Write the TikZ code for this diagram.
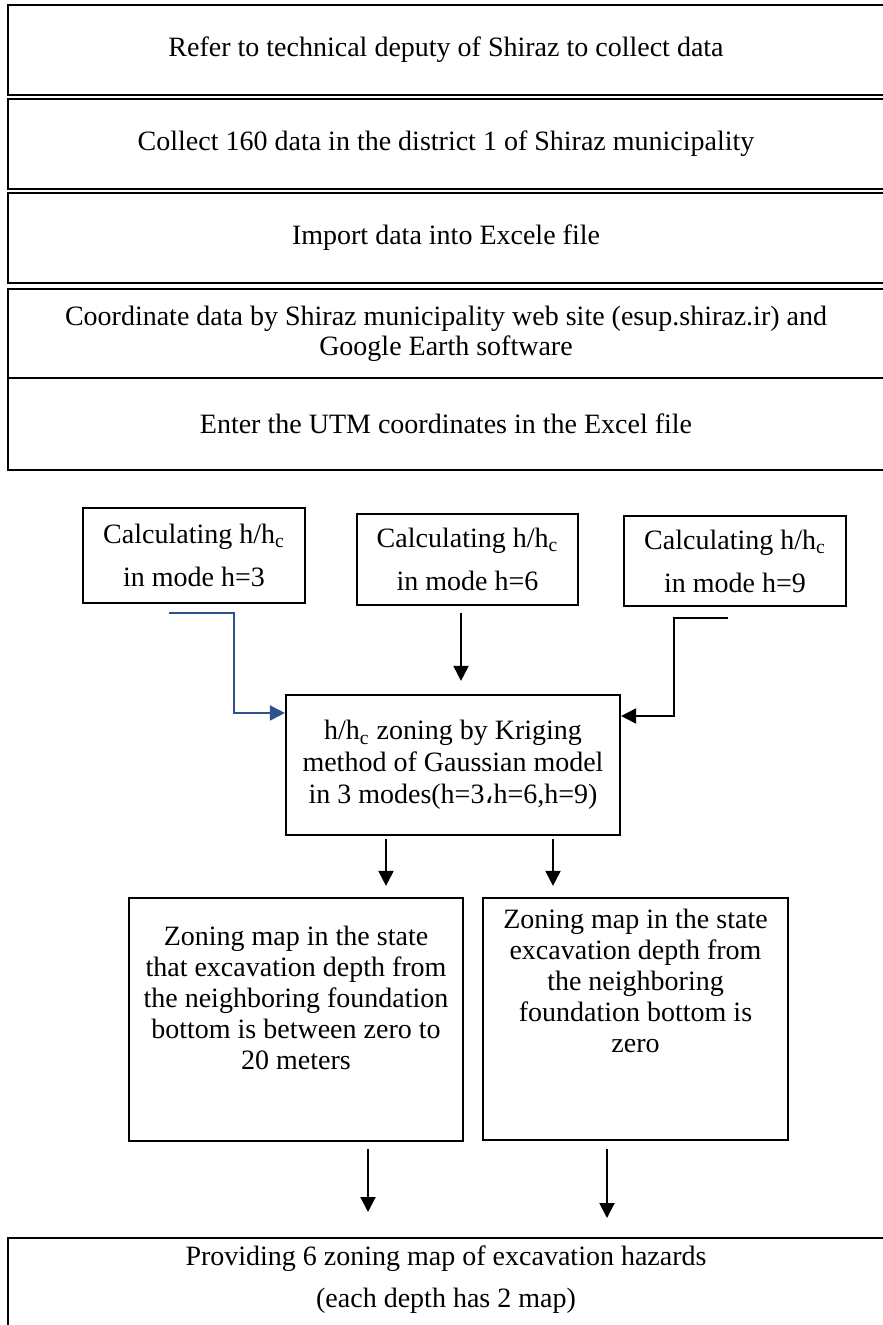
\documentclass[tikz,border=0pt]{standalone}
\usepackage{fontspec}
\setmainfont{Liberation Serif}
\newfontfamily\arabicfont{DejaVu Sans}
\usetikzlibrary{positioning,arrows.meta}
\definecolor{lineblue}{RGB}{47,82,143}

\begin{document}
\begin{tikzpicture}[
    x=0.5pt, y=-0.5pt,
    font=\fontsize{14}{15}\selectfont,
    node distance=2pt,
    stepbox/.style={rectangle, draw, line width=1.4pt, outer sep=0pt, minimum width=438pt, minimum height=45pt, align=center, inner sep=0pt},
    calcbox/.style={rectangle, draw, line width=1.1pt, minimum width=111pt, align=center, font=\fontsize{14}{21.5}\selectfont},
    zonebox/.style={rectangle, draw, line width=1.1pt, align=center, inner sep=0pt, font=\fontsize{14}{15.5}\selectfont},
    arrow/.style={-{Triangle[width=7.5pt,length=7.5pt]}, line width=1pt}
]
    \useasboundingbox (0,0) rectangle (882,1325);
    \node (refer) [stepbox] at (446,50) {Refer to technical deputy of Shiraz to collect data};
    \node (collect) [stepbox, below=of refer] {Collect 160 data in the district 1 of Shiraz municipality};
    \node (import) [stepbox, below=of collect] {Import data into Excele file};
    \node (coord) [stepbox, below=3pt of import, minimum height=44.5pt] {Coordinate data by Shiraz municipality web site (esup.shiraz.ir) and\\Google Earth software};
    \node (utm) [stepbox, below=0pt of coord, minimum height=46pt] {Enter the UTM coordinates in the Excel file};
    \node (calc3) [calcbox, minimum height=47.5pt] at (194,555.5) {Calculating h/h\textsubscript{c}\\in mode h=3};
    \node (calc6) [calcbox, minimum width=110.5pt, minimum height=45.5pt] at (467.5,559.5) {Calculating h/h\textsubscript{c}\\in mode h=6};
    \node (calc9) [calcbox, minimum height=45pt] at (735,561) {Calculating h/h\textsubscript{c}\\in mode h=9};
    \node (kriging) [zonebox, minimum width=167pt, minimum height=70pt, font=\fontsize{14}{16}\selectfont] at (453,765) {h/h\textsubscript{c} zoning by Kriging\\method of Gaussian model\\in 3 modes(h=3{\arabicfont ،}h=6,h=9)};
    \node (zoneA) [zonebox, minimum width=167pt, minimum height=121.5pt] at (296,1019.5) {Zoning map in the state\\that excavation depth from\\the neighboring foundation\\bottom is between zero to\\20 meters\\[6pt]\mbox{}};
    \node (zoneB) [zonebox, minimum width=152.5pt, minimum height=121pt] at (635.5,1019) {Zoning map in the state\\excavation depth from\\the neighboring\\foundation bottom is\\zero\\[23pt]\mbox{}};
    \node (hazard) [stepbox, anchor=north, minimum height=0pt, inner ysep=4pt] at (446,1238) {Providing 6 zoning map of excavation hazards\\[6pt](each depth has 2 map)\\[20pt]\mbox{}};
    \draw [arrow, lineblue] ([xshift=-12.5pt,yshift=-4.5pt]calc3.south) -- ++(65,0) |- ([yshift=26pt]kriging.west);
    \draw [arrow, shorten <=3.5pt, shorten >=6.5pt] ([xshift=-3.25pt]calc6.south) -- ([xshift=-3.25pt]calc6.south |- kriging.north);
    \draw [arrow] ([xshift=-3.5pt,yshift=-5.5pt]calc9.south) -- ++(-54,0) |- ([yshift=24.5pt]kriging.east);
    \draw [arrow, shorten <=1.5pt, shorten >=5.5pt] ([xshift=-33.5pt]kriging.south) -- ([xshift=-33.5pt]kriging.south |- zoneA.north);
    \draw [arrow, shorten <=1.5pt, shorten >=5.5pt] ([xshift=50pt]kriging.south) -- ([xshift=50pt]kriging.south |- zoneB.north);
    \draw [arrow, shorten <=3.5pt, shorten >=13pt] ([xshift=36pt]zoneA.south) -- ([xshift=36pt]zoneA.south |- hazard.north);
    \draw [arrow, shorten <=4pt, shorten >=10pt] ([xshift=-14.25pt]zoneB.south) -- ([xshift=-14.25pt]zoneB.south |- hazard.north);
\end{tikzpicture}
\end{document}
